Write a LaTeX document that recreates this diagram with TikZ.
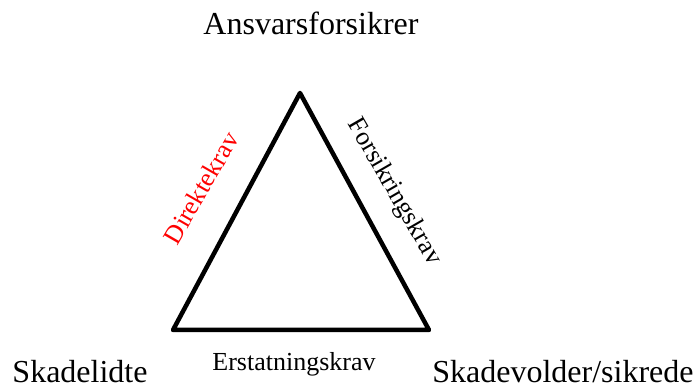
\documentclass[tikz,border=0pt]{standalone}
\usepackage{fontspec}
\setmainfont{Liberation Serif}
\usepackage{tikz}

\begin{document}
\begin{tikzpicture}[x=1pt,y=1pt]
  \useasboundingbox (0,0) rectangle (695,385);
  \coordinate (top) at (300,292);
  \coordinate (left) at (173,55);
  \coordinate (right) at (429,55);
  \draw [line width=4.5pt, line join=round] (top) -- (left) -- (right) -- cycle;
  \node [anchor=base, inner sep=0pt, font=\fontsize{32}{38}\selectfont] (forsikrer) at (311,350) {Ansvarsforsikrer};
  \node [anchor=base, inner sep=0pt, font=\fontsize{32}{38}\selectfont] (lidte) at (80,3) {Skadelidte};
  \node [anchor=base, inner sep=0pt, font=\fontsize{32}{38}\selectfont] (volder) at (563,3) {Skadevolder/sikrede};
  \node [anchor=base, inner sep=0pt, font=\fontsize{26}{31}\selectfont] (erstatning) at (294,15) {Erstatningskrav};
  \node [rotate=60, inner sep=0pt, red, font=\fontsize{26}{31}\selectfont] (direkte) at (201,197) {Direktekrav};
  \node [rotate=-60, inner sep=0pt, font=\fontsize{26}{31}\selectfont] (forsikring) at (394,193) {Forsikringskrav};
\end{tikzpicture}
\end{document}
